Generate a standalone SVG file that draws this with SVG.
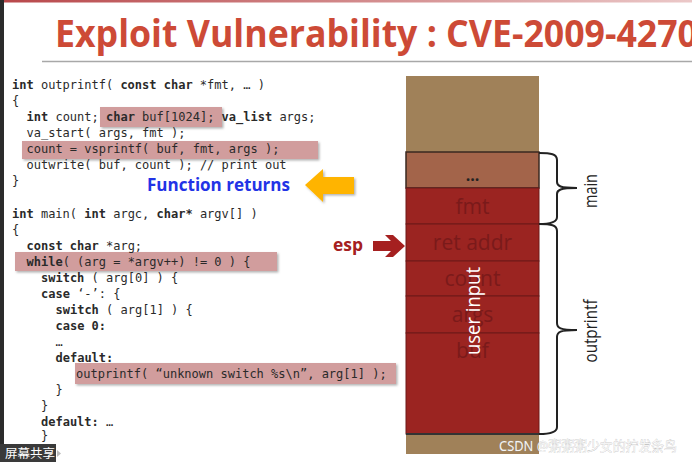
<svg xmlns="http://www.w3.org/2000/svg" width="692" height="462" viewBox="0 0 692 462">
<style>
.code{font-family:"DejaVu Sans Mono","Liberation Mono",monospace;font-size:12px;fill:#2a2a2a}
.k{font-weight:bold}
.hl{fill:#D19D9D}
.cell{stroke:#6E1818;stroke-width:1}
.red{fill:#9B2421}
.tan{fill:#A08159}
.lbl{font-family:"Open Sans","Liberation Sans",sans-serif;font-size:21px;fill:#7A1A1A;text-anchor:middle}
.side{font-family:"Open Sans","Liberation Sans",sans-serif;font-size:18px;fill:#222;text-anchor:middle}
.brace{fill:none;stroke:#222;stroke-width:2}
</style>
<defs>
<linearGradient id="topbar" x1="0" y1="0" x2="1" y2="0">
<stop offset="0" stop-color="#B8474A"/>
<stop offset="1" stop-color="#EBC8C8"/>
</linearGradient>
<filter id="sh" x="-10%" y="-20%" width="130%" height="160%">
<feDropShadow dx="1.5" dy="1.5" stdDeviation="1" flood-color="#000" flood-opacity="0.3"/>
</filter>
</defs>
<rect x="0" y="0" width="692" height="462" fill="#ffffff"/>
<rect x="0" y="0" width="692" height="2.5" fill="url(#topbar)"/>
<rect x="0" y="0" width="4" height="462" fill="#2B2B2B"/>

<g id="title">
<text x="55" y="47" font-family="'Open Sans','Liberation Sans',sans-serif" font-weight="bold" font-size="38" fill="#CD4A36" textLength="643" lengthAdjust="spacingAndGlyphs">Exploit Vulnerability : CVE-2009-4270</text>
<line x1="42" y1="61.5" x2="692" y2="61.5" stroke="#A8A8A8" stroke-width="1.5"/>
</g>

<g id="highlights" filter="url(#sh)">
<rect class="hl" x="100" y="107" width="122" height="20"/>
<rect class="hl" x="22" y="141" width="296" height="18"/>
<rect class="hl" x="15" y="252" width="262" height="19"/>
<rect class="hl" x="75" y="363" width="321" height="21"/>
</g>

<g id="code-outprintf" class="code">
<text x="12" y="89"><tspan class="k">int</tspan> outprintf( <tspan class="k">const char</tspan> *fmt, … )</text>
<text x="12" y="105">{</text>
<text x="26.5" y="121"><tspan class="k">int</tspan> count; <tspan class="k">char</tspan> buf[1024]; <tspan class="k">va_list</tspan> args;</text>
<text x="26.5" y="137">va_start( args, fmt );</text>
<text x="26.5" y="153">count = vsprintf( buf, fmt, args );</text>
<text x="26.5" y="169">outwrite( buf, count ); // print out</text>
<text x="12" y="185">}</text>
</g>

<g id="code-main" class="code">
<text x="12" y="218"><tspan class="k">int</tspan> main( <tspan class="k">int</tspan> argc, <tspan class="k">char*</tspan> argv[] )</text>
<text x="12" y="234">{</text>
<text x="26.5" y="250"><tspan class="k">const char</tspan> *arg;</text>
<text x="26.5" y="266"><tspan class="k">while</tspan>( (arg = *argv++) != 0 ) {</text>
<text x="41" y="282"><tspan class="k">switch</tspan> ( arg[0] ) {</text>
<text x="41" y="298"><tspan class="k">case</tspan> ‘-’: {</text>
<text x="55.5" y="314"><tspan class="k">switch</tspan> ( arg[1] ) {</text>
<text x="55.5" y="330" class="k">case 0:</text>
<text x="55.5" y="346">…</text>
<text x="55.5" y="362" class="k">default:</text>
<text x="76" y="378">outprintf( “unknown switch %s\n”, arg[1] );</text>
<text x="55.5" y="394">}</text>
<text x="41" y="410">}</text>
<text x="41" y="426"><tspan class="k">default:</tspan> …</text>
<text x="41" y="440">}</text>
</g>

<g id="function-returns">
<text x="147" y="191" font-family="'Open Sans','Liberation Sans',sans-serif" font-weight="bold" font-size="18.5" fill="#2233E6" textLength="143" lengthAdjust="spacingAndGlyphs">Function returns</text>
</g>

<g id="stack">
<g id="cell-top"><rect class="tan" x="406" y="76" width="133" height="76"/></g>
<g id="cell-dots"><rect x="406" y="152" width="133" height="36" fill="#A3644A" stroke="#3A2820" stroke-width="1.5"/>
<text x="472.5" y="181" font-family="'Open Sans','Liberation Sans',sans-serif" font-weight="bold" font-size="16" fill="#222" text-anchor="middle">...</text></g>
<g id="cell-fmt"><rect class="red cell" x="406" y="188" width="133" height="36"/><text class="lbl" x="472.5" y="214">fmt</text></g>
<g id="cell-ret"><rect class="red cell" x="406" y="224" width="133" height="37"/><text class="lbl" x="472.5" y="250">ret addr</text></g>
<g id="cell-count"><rect class="red cell" x="406" y="261" width="133" height="35"/><text class="lbl" x="472.5" y="286">count</text></g>
<g id="cell-args"><rect class="red cell" x="406" y="296" width="133" height="37"/><text class="lbl" x="472.5" y="322">args</text></g>
<g id="cell-buf"><rect class="red cell" x="406" y="333" width="133" height="101"/><text class="lbl" x="472.5" y="358">buf</text></g>
<g id="cell-bottom"><rect class="tan" x="406" y="434" width="133" height="20"/></g>
<line x1="406" y1="434" x2="539" y2="434" stroke="#333" stroke-width="2"/>
<g id="user-input"><text transform="translate(480,311) rotate(-90)" x="0" y="0" font-family="'Open Sans','Liberation Sans',sans-serif" font-size="20" fill="#ffffff" text-anchor="middle" textLength="88" lengthAdjust="spacingAndGlyphs">user input</text></g>
</g>

<g id="labels">
<g id="label-main"><text class="side" transform="translate(597,191) rotate(-90)" textLength="34" lengthAdjust="spacingAndGlyphs">main</text></g>
<g id="label-outprintf"><text class="side" transform="translate(597,331) rotate(-90)" textLength="63" lengthAdjust="spacingAndGlyphs">outprintf</text></g>
<g id="label-esp"><text x="333" y="251" font-family="'Open Sans','Liberation Sans',sans-serif" font-weight="bold" font-size="18" fill="#A52020" textLength="30" lengthAdjust="spacingAndGlyphs">esp</text></g>
</g>

<g id="connectors">
<polygon id="yellow-arrow" filter="url(#sh)" points="305,185 323,169 323,177 354,177 354,194 323,194 323,202" fill="#FFB400"/>
<polygon id="esp-arrow" points="373,241 391,241 385,235 393,235 405,246 393,257 385,257 391,251 373,251" fill="#A52020"/>
<path id="brace-main" class="brace" d="M539,153 C551,153 557,154 557,160 L557,182 C557,186 560,188 577,188 C560,188 557,190 557,194 L557,217 C557,222 551,224 539,224"/>
<path id="brace-outprintf" class="brace" d="M539,224 C551,224 557,225 557,231 L557,323 C557,328 560,330 577,330 C560,330 557,332 557,337 L557,427 C557,432 551,434 539,434"/>
</g>

<g id="overlay">
<rect x="0" y="444" width="56" height="18" fill="#3A3A3A"/>
<text x="5" y="458" font-family="'Noto Sans CJK SC',sans-serif" font-size="12.5" fill="#ffffff">屏幕共享</text>
<polygon points="57,450 61,453.5 57,457" fill="#bbbbbb"/>
<text x="499" y="451" font-family="'Noto Sans','Noto Sans CJK SC',sans-serif" font-size="14" fill="#f4f4f4" stroke="#9a9a9a" stroke-width="0.3" paint-order="stroke" textLength="178" lengthAdjust="spacingAndGlyphs">CSDN @粥粥粥少女的拧发条鸟</text>
</g>
</svg>
